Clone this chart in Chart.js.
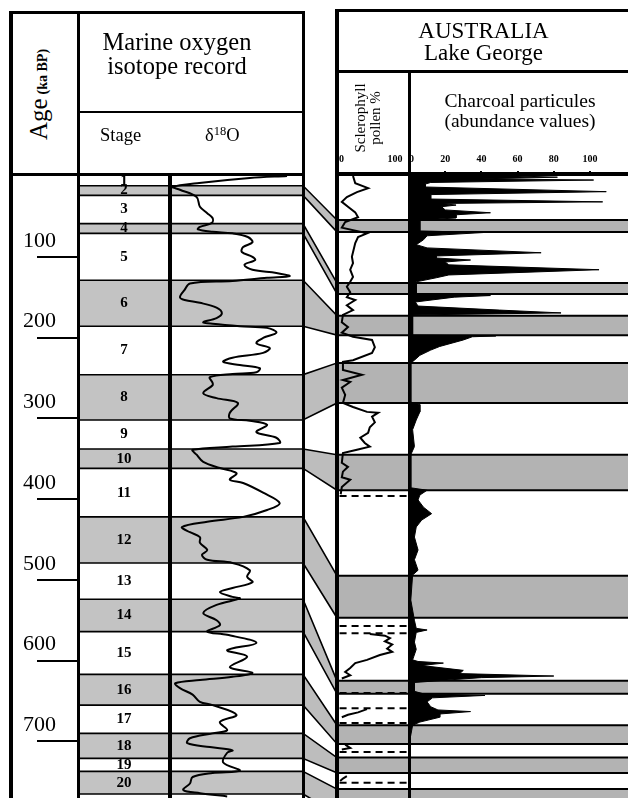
<!DOCTYPE html>
<html>
<head>
<meta charset="utf-8">
<script src="https://cdn.jsdelivr.net/npm/chart.js@4.4.0/dist/chart.umd.min.js"></script>
<style>
html,body{margin:0;padding:0;background:#fff;}
#page{position:relative;width:628px;height:798px;overflow:hidden;font-family:'Liberation Serif','Times New Roman',serif;color:#000;background:#fff;}
.box{position:absolute;}
.ln{position:absolute;background:#000;z-index:5;}
.t{position:absolute;white-space:nowrap;line-height:1;z-index:6;}
</style>
</head>
<body>
<div id="page">
  <div class="box" style="left:10px;top:176px;width:160px;height:622px"><canvas id="stages"></canvas></div>
  <div class="box" style="left:170px;top:176px;width:133px;height:622px"><canvas id="isotope"></canvas></div>
  <div class="box" style="left:303px;top:176px;width:34px;height:622px"><canvas id="links"></canvas></div>
  <div class="box" style="left:337px;top:150px;width:72px;height:648px"><canvas id="sclero"></canvas></div>
  <div class="box" style="left:409px;top:150px;width:219px;height:648px"><canvas id="charcoal"></canvas></div>

  <!-- left panel frame -->
  <div class="ln" style="left:9px;top:11px;width:296px;height:3px"></div>
  <div class="ln" style="left:9px;top:11px;width:3.5px;height:787px"></div>
  <div class="ln" style="left:76.5px;top:11px;width:3.5px;height:787px"></div>
  <div class="ln" style="left:301.5px;top:11px;width:3.5px;height:787px"></div>
  <div class="ln" style="left:78px;top:110.5px;width:225px;height:2.5px"></div>
  <div class="ln" style="left:9px;top:172.5px;width:296px;height:3.5px"></div>
  <div class="ln" style="left:168px;top:173px;width:3.5px;height:625px"></div>
  <!-- right panel frame -->
  <div class="ln" style="left:335px;top:9px;width:293px;height:3px"></div>
  <div class="ln" style="left:335px;top:9px;width:3.5px;height:789px"></div>
  <div class="ln" style="left:335px;top:70px;width:293px;height:2.5px"></div>
  <div class="ln" style="left:407.5px;top:70px;width:3px;height:728px"></div>
  <div class="ln" style="left:335px;top:172px;width:293px;height:3.5px"></div>

  <!-- header texts -->
  <div class="t" style="left:-9px;top:82px;width:94px;height:25px;text-align:center;transform:rotate(-90deg)"><span style="font-size:25px">Age</span> <span style="font-size:14px;font-weight:bold">(ka BP)</span></div>
  <div class="t" style="left:77px;top:29.5px;width:200px;text-align:center;font-size:24.5px;line-height:24px">Marine oxygen<br>isotope record</div>
  <div class="t" style="left:100px;top:126.2px;font-size:18.5px">Stage</div>
  <div class="t" style="left:205px;top:126.2px;font-size:18.5px">&delta;<span style="position:relative;top:-6px;font-size:12.5px">18</span>O</div>
  <div class="t" style="left:383.5px;top:19.8px;width:200px;text-align:center;font-size:23px;line-height:22.5px">AUSTRALIA<br>Lake George</div>
  <div class="t" style="left:328px;top:103px;width:80px;height:30px;text-align:center;font-size:15px;line-height:15px;transform:rotate(-90deg)">Sclerophyll<br>pollen %</div>
  <div class="t" style="left:420px;top:91.2px;width:200px;text-align:center;font-size:19.5px;line-height:20px">Charcoal particules<br>(abundance values)</div>
</div>
<script>
// marine isotope stages: stage i spans stageBounds[i]..stageBounds[i+1] (ka)
const stageNames = ['1','2','3','4','5','6','7','8','9','10','11','12','13','14','15','16','17','18','19','20'];
const stageBounds = [0, 12, 24, 59, 71, 129, 186, 246, 302, 338, 362, 422, 479, 524, 564, 617, 655, 690, 721, 737, 765];
const ageTicks = [100, 200, 300, 400, 500, 600, 700];

// d18O curve (relative units, light values to the right)
const d18oAge = [0, 2.5, 8.7, 13.6, 17, 26, 38, 46, 52, 58,
  63, 66, 69, 71, 75.5, 82, 88, 94, 100, 104,
  110, 116, 120, 124, 126, 130, 133, 141, 150, 153.5,
  157, 163, 170, 176, 181, 183, 186, 188, 194, 200.5,
  207, 213, 219, 225, 230, 234, 238, 243, 245, 249,
  256, 259, 269, 275, 281, 293, 300, 303, 308, 317,
  324, 330.5, 335, 339, 345, 354, 361.5, 368, 376, 380,
  392, 405, 413.5, 422, 428, 434.5, 441, 447, 454, 463,
  469, 475, 479, 488, 496, 503, 510, 515, 521, 523,
  531, 541, 550, 556, 564, 568, 578, 587, 595, 608,
  615, 620, 624, 628, 634, 642, 651, 655, 667, 676,
  686, 690, 696, 702, 707, 711, 714, 726, 736, 739,
  744, 752, 760, 764, 768];
const d18oValue = [88, 60, 22, 2, 7.5, 20, 22.5, 28, 32, 31.5,
  22.5, 21, 32, 47, 58.5, 62, 55, 54, 62, 64,
  56, 62, 80, 90, 73, 47, 15, 11, 7.5, 11,
  22.5, 35, 39, 35, 25, 32, 52.5, 73, 80, 70,
  65, 75, 70, 47, 40, 52.5, 67.5, 65, 47, 30,
  32, 32, 25, 35, 51, 45, 45, 60, 73, 65,
  80, 82.5, 47, 17, 20, 25, 37.5, 50, 45, 55,
  70, 82.5, 73, 55, 28, 9, 15, 22.5, 22.5, 28,
  24, 28, 47, 60, 58, 62, 47, 37.5, 47, 52.5,
  35, 25, 35, 37.5, 28, 43, 65, 43, 58, 45,
  62, 47, 22.5, 4, 7.5, 17, 22.5, 32, 50, 37.5,
  43, 32, 15, 13, 30, 47, 43, 40, 52.5, 32,
  17, 15, 10, 22.5, 43];

// Lake George shaded intervals (same vertical scale)
const lakeBandTop = [54.5, 132.5, 173, 231.5, 345, 495, 625, 680, 720, 759];
const lakeBandBottom = [69.3, 146, 197, 281, 389, 547, 641, 703, 739, 790];

// sclerophyll pollen %
const scleroTicks = [0, 100];
const scleroAge = [0, 9, 15, 20, 26, 32, 38, 45, 51, 57,
  64, 71, 75.5, 83, 100, 108, 116, 125, 131, 137,
  144, 150, 153.5, 160, 166, 172, 181, 187, 194, 199,
  203, 212, 219, 228, 230, 240, 246, 252.5, 255, 262,
  271, 281, 286, 292, 293, 298, 305, 311, 318, 324,
  330.5, 335, 339, 343, 355, 360, 366, 373, 376, 385, 394,
  395,
  567, 569, 572, 576, 580, 585, 589, 593, 599, 603, 609, 614, 618, 622,
  623,
  660, 664, 667, 670,
  671,
  704, 708, 710,
  711,
  743, 746, 749];
const scleroPct = [25, 29, 52, 32, 14, 5, 16, 29, 34, 11,
  5, 50, 34, 29, 23, 25, 20, 25, 20, 14,
  20, 14, 29, 14, 25, 7, 5, 16, 5, 25,
  59, 64, 59, 25, 7, 7, 41, 7, 20, 5,
  11, 7, 25, 50, 70, 59, 64, 55, 52, 38,
  46, 55, 32, 7, 5, 16, 7, 5, 20, 5, 3,
  null,
  55, 82, 91, 82, 95, 86, 95, 73, 50, 29, 20, 11, 20, 5,
  null,
  50, 34, 16, 5,
  null,
  11, 20, 5,
  null,
  14, 7, 2];
const hiatusAges = [396, 557, 566, 640, 659, 677, 713, 751];

// charcoal particles (abundance values)
const charcoalTicks = [0, 20, 40, 60, 80, 100];
const charcoalAge = [0, 1.5, 3.5, 5, 8, 10, 13.6, 19.4, 23, 28.5,
  32, 34, 36, 38, 42, 45.5, 48, 52, 54.5, 68,
  70, 74, 79, 85, 89, 95, 99, 101.5, 104, 106.5,
  110, 116, 122.5, 126, 131, 146, 146.5, 148, 150, 156,
  161, 166, 169.5, 172, 197, 198, 199, 203, 211, 215.5,
  222, 228, 231.5, 280, 283, 292, 302, 314, 335, 345,
  386, 389, 395, 401, 410, 418, 426, 434.5, 447, 463,
  475, 488, 494, 525, 550, 560, 562, 565, 577, 586,
  599, 601, 603, 606, 612, 616, 619, 621, 624, 627,
  638, 641, 643, 646, 651, 657, 661, 663, 666, 670,
  676, 680, 692, 703, 770];
const charcoalValue = [60, 82, 40, 102, 12, 9, 9, 109, 12, 12,
  107, 18, 26, 18, 20, 45, 26, 26, 6, 6,
  41, 10, 8, 4, 10, 73, 15, 15, 34, 20,
  22, 105, 22, 15, 4, 4, 20, 45, 25, 3.5,
  5, 50, 84, 2, 2, 48, 35, 30, 17, 12,
  6, 3, 1, 1, 6, 6, 4, 2, 3, 1,
  1, 10, 6, 5, 8, 12.5, 7, 4, 3, 5,
  3, 5, 2, 1, 3, 4, 10, 4, 3, 4,
  2, 5, 19, 7, 30, 28, 80, 40, 21, 3,
  3, 8, 42, 13, 10, 12, 16, 34, 17, 17,
  6, 2, 1, 0, 0];

const AGE_MAX = 770;
const STAGE_GREY = '#c3c3c3', LAKE_GREY = '#b3b3b3', LINK_GREY = '#bdbdbd';

Chart.defaults.font.family = '"Liberation Serif", "Times New Roman", serif';
Chart.defaults.color = '#000';

function yPix(chart, age) { return chart.scales.y.getPixelForValue(age); }

function hLine(ctx, a, p) {
  ctx.beginPath(); ctx.moveTo(a.left, p); ctx.lineTo(a.right, p); ctx.stroke();
}

const stageBandsPlugin = {
  id: 'stageBands',
  beforeDatasetsDraw(chart) {
    const {ctx, chartArea: a} = chart;
    ctx.save();
    ctx.fillStyle = STAGE_GREY;
    stageNames.forEach((n, i) => {
      if (i % 2 === 1) {
        const t = yPix(chart, stageBounds[i]), b = yPix(chart, stageBounds[i + 1]);
        ctx.fillRect(a.left, t, a.right - a.left, b - t);
      }
    });
    ctx.strokeStyle = '#000';
    ctx.lineWidth = 1.6;
    stageBounds.slice(1).forEach(v => hLine(ctx, a, yPix(chart, v)));
    ctx.restore();
  }
};

const stageLabelsPlugin = {
  id: 'stageLabels',
  afterDraw(chart) {
    const {ctx, chartArea: a} = chart;
    ctx.save();
    ctx.font = 'bold 15px "Liberation Serif", serif';
    ctx.textAlign = 'center';
    ctx.textBaseline = 'middle';
    ctx.fillStyle = '#000';
    stageNames.forEach((n, i) => {
      const mid = (yPix(chart, stageBounds[i]) + yPix(chart, stageBounds[i + 1])) / 2;
      ctx.fillText(n, (a.left + a.right) / 2, mid);
    });
    ctx.restore();
  }
};

const lakeBandsPlugin = {
  id: 'lakeBands',
  beforeDatasetsDraw(chart) {
    const {ctx, chartArea: a} = chart;
    ctx.save();
    ctx.beginPath();
    ctx.rect(a.left, a.top, a.right - a.left, a.bottom - a.top);
    ctx.clip();
    ctx.fillStyle = LAKE_GREY;
    lakeBandTop.forEach((t, k) => {
      const y1 = yPix(chart, t), y2 = yPix(chart, lakeBandBottom[k]);
      ctx.fillRect(a.left, y1, a.right - a.left, y2 - y1);
    });
    ctx.strokeStyle = '#000';
    ctx.lineWidth = 2;
    lakeBandTop.concat(lakeBandBottom).forEach(v => hLine(ctx, a, yPix(chart, v)));
    ctx.restore();
  }
};

// correlation wedges: even marine stage -> Lake George shaded interval
const linksPlugin = {
  id: 'links',
  afterDraw(chart) {
    const {ctx, chartArea: a} = chart;
    ctx.save();
    ctx.fillStyle = LINK_GREY;
    ctx.strokeStyle = '#000';
    ctx.lineWidth = 1.6;
    lakeBandTop.forEach((top, k) => {
      const i = 2 * k + 1;
      const mt = yPix(chart, stageBounds[i]), mb = yPix(chart, stageBounds[i + 1]);
      const lt = yPix(chart, top), lb = yPix(chart, lakeBandBottom[k]);
      ctx.beginPath();
      ctx.moveTo(a.left, mt);
      ctx.lineTo(a.right, lt);
      ctx.lineTo(a.right, lb);
      ctx.lineTo(a.left, mb);
      ctx.closePath();
      ctx.fill();
      ctx.stroke();
    });
    ctx.restore();
  }
};

const hiddenAge = { type: 'linear', min: 0, max: AGE_MAX, reverse: true, display: false };

function common(scales) {
  return {
    responsive: true, maintainAspectRatio: false, animation: false,
    devicePixelRatio: 1, events: [], indexAxis: 'y',
    layout: { padding: 0 },
    plugins: { legend: { display: false }, tooltip: { enabled: false } },
    scales
  };
}

function topAxis(min, max, ticks, marks) {
  return {
    type: 'linear', position: 'top', min, max,
    afterBuildTicks: s => { s.ticks = ticks.concat([max]).map(v => ({ value: v })); },
    afterFit: s => { s.height = 26; s.paddingLeft = 0; s.paddingRight = 0; },
    border: { display: false },
    grid: {
      drawOnChartArea: false, tickLength: 5, lineWidth: 2, color: '#000',
      tickColor: c => (marks && c.tick && c.tick.value !== max && c.tick.value !== 0) ? '#000' : 'rgba(0,0,0,0)'
    },
    ticks: {
      color: '#000', font: { size: 10, weight: 'bold' }, padding: 6,
      align: 'inner', maxRotation: 0, autoSkip: false,
      callback: v => (v === max ? '' : v)
    }
  };
}

new Chart(document.getElementById('stages'), {
  type: 'line',
  data: { datasets: [] },
  options: common({
    x: { type: 'linear', display: false, min: 0, max: 1 },
    y: {
      type: 'linear', min: 0, max: AGE_MAX, reverse: true, position: 'left',
      afterBuildTicks: s => { s.ticks = ageTicks.map(v => ({ value: v })); },
      afterFit: s => { s.width = 68; s.paddingTop = 0; s.paddingBottom = 0; },
      border: { display: false },
      grid: { drawOnChartArea: false, drawTicks: true, tickLength: 41, color: '#000', lineWidth: 2 },
      ticks: { color: '#000', font: { size: 22 }, padding: -19, labelOffset: -16, autoSkip: false }
    }
  }),
  plugins: [stageBandsPlugin, stageLabelsPlugin]
});

new Chart(document.getElementById('isotope'), {
  type: 'line',
  data: {
    datasets: [{
      data: d18oAge.map((a, i) => ({ x: d18oValue[i], y: a })),
      borderColor: '#000', borderWidth: 2, pointRadius: 0, tension: 0.35, fill: false
    }]
  },
  options: common({
    x: { type: 'linear', display: false, min: 0, max: 100 },
    y: hiddenAge
  }),
  plugins: [stageBandsPlugin]
});

new Chart(document.getElementById('links'), {
  type: 'line',
  data: { datasets: [] },
  options: common({
    x: { type: 'linear', display: false, min: 0, max: 1 },
    y: hiddenAge
  }),
  plugins: [linksPlugin]
});

new Chart(document.getElementById('sclero'), {
  type: 'line',
  data: {
    datasets: [{
      data: scleroAge.map((a, i) => ({ x: scleroPct[i], y: a })),
      borderColor: '#000', borderWidth: 2, pointRadius: 0, tension: 0, spanGaps: false
    }].concat(hiatusAges.map(a => ({
      data: [{ x: 1, y: a }, { x: 121, y: a }],
      borderColor: '#000', borderWidth: 2, borderDash: [7, 5], pointRadius: 0
    })))
  },
  options: common({
    x: topAxis(-3.6, 125, scleroTicks, false),
    y: hiddenAge
  }),
  plugins: [lakeBandsPlugin]
});

new Chart(document.getElementById('charcoal'), {
  type: 'line',
  data: {
    datasets: [{
      data: charcoalAge.map((a, i) => ({ x: charcoalValue[i], y: a })),
      borderColor: '#000', backgroundColor: '#000', borderWidth: 1,
      pointRadius: 0, tension: 0, fill: 'origin'
    }]
  },
  options: common({
    x: topAxis(0, 121, charcoalTicks, true),
    y: hiddenAge
  }),
  plugins: [lakeBandsPlugin]
});
</script>
</body>
</html>
